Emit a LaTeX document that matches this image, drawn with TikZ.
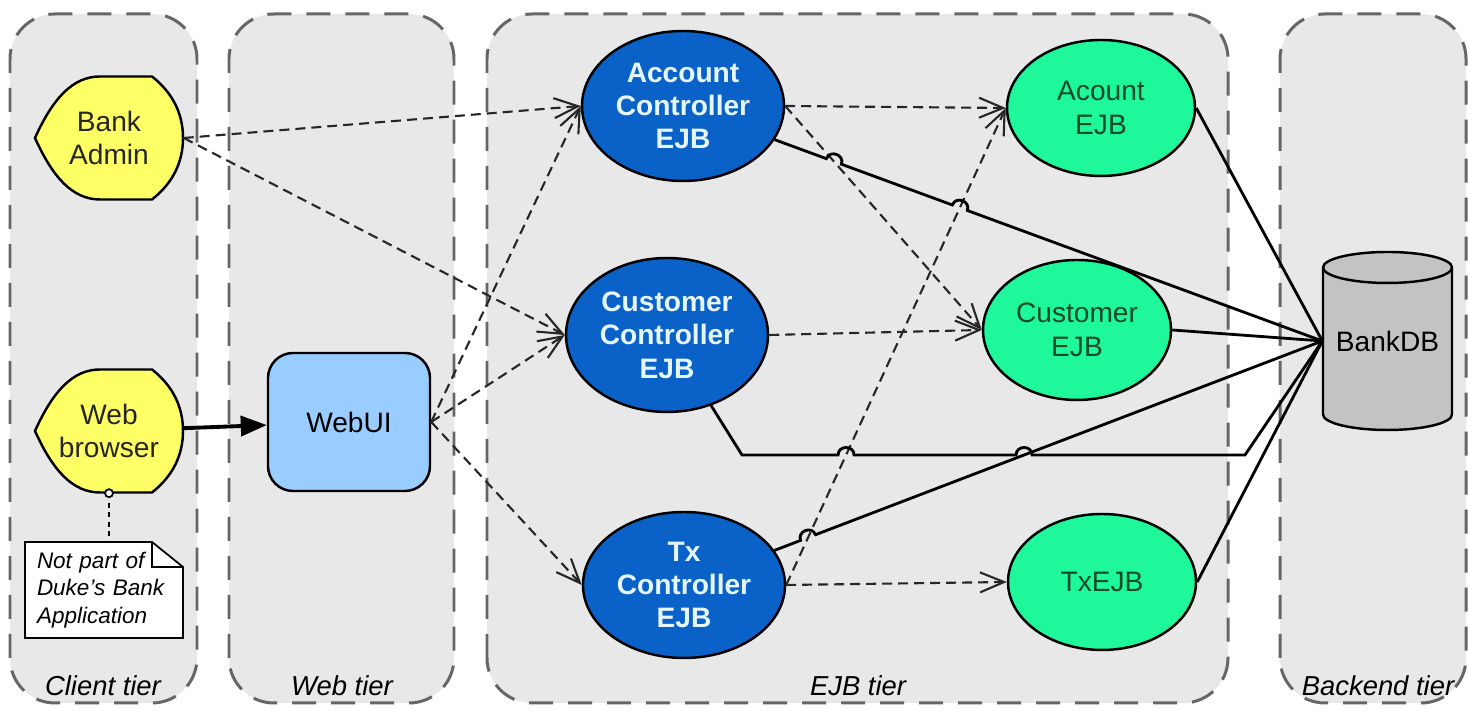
\documentclass[tikz,border=0pt]{standalone}
\usepackage{fontspec}
\setmainfont{Liberation Sans}
\usetikzlibrary{arrows.meta,calc,intersections,shapes.geometric}

\definecolor{tierfill}{HTML}{E8E8E8}
\definecolor{tierline}{HTML}{666666}
\definecolor{actorfill}{HTML}{FFFF66}
\definecolor{ctrlfill}{HTML}{0A62C8}
\definecolor{ctrltext}{HTML}{E6F6FF}
\definecolor{ejbfill}{HTML}{1EF79A}
\definecolor{ejbtext}{HTML}{114A2A}
\definecolor{webfill}{HTML}{99CCFF}
\definecolor{dbfill}{HTML}{C3C3C3}

\begin{document}
\begin{tikzpicture}[font=\fontsize{8}{9.5}\selectfont,
  tier/.style = {draw=tierline, fill=tierfill, line width=0.85pt, dash pattern=on 0.24cm off 0.15cm, rounded corners=0.45cm},
  tierlabel/.style = {font=\fontsize{7.8}{9.5}\selectfont\itshape},
  actor/.style = {draw, fill=actorfill, line width=0.7pt},
  actortext/.style = {align=center, minimum width=1.48cm, minimum height=1.23cm, inner sep=0pt, text=black!85},
  ctrl/.style = {draw, ellipse, fill=ctrlfill, line width=0.7pt, text=ctrltext, font=\fontsize{8}{9.5}\selectfont\bfseries, align=center, inner sep=0pt, minimum width=2.02cm, minimum height=1.5cm},
  ejb/.style = {draw, ellipse, fill=ejbfill, line width=0.7pt, text=ejbtext, align=center, inner sep=0pt, minimum width=1.88cm, minimum height=1.36cm},
  dep/.style = {-{Straight Barb[length=0.24cm,width=0.2cm]}, line width=0.6pt, dash pattern=on 0.1cm off 0.06cm, black!85},
  store/.style = {line width=0.8pt},
  hop/.style = {bend left=90, looseness=1.6}]
\useasboundingbox (0,0) rectangle (14.69,7.11);

\draw[tier] (0.10,0.08) rectangle (1.97,6.97);
\draw[tier] (2.29,0.08) rectangle (4.54,6.97);
\draw[tier] (4.87,0.08) rectangle (12.28,6.97);
\draw[tier] (12.80,0.08) rectangle (14.66,6.97);
\node[tierlabel] (clientlbl) at (1.03,0.25) {Client tier};
\node[tierlabel] (weblbl) at (3.42,0.25) {Web tier};
\node[tierlabel] (ejblbl) at (8.58,0.25) {EJB tier};
\node[tierlabel] (backlbl) at (13.78,0.25) {Backend tier};

\foreach \y in {5.73,2.80}
  \filldraw[actor, shift={(1.09,\y)}] (-0.74,0) .. controls (-0.56,0.40) and (-0.36,0.615) .. (-0.09,0.615) -- (0.43,0.615) .. controls (0.64,0.45) and (0.74,0.24) .. (0.74,0) .. controls (0.74,-0.24) and (0.64,-0.45) .. (0.43,-0.615) -- (-0.09,-0.615) .. controls (-0.36,-0.615) and (-0.56,-0.40) .. cycle;
\node[actortext] (ba) at (1.09,5.73) {Bank\\Admin};
\node[actortext] (wb) at (1.09,2.80) {Web\\browser};

\filldraw[fill=white, line width=0.5pt] (0.25,0.73) -- (0.25,1.69) -- (1.52,1.69) -- (1.83,1.44) -- (1.83,0.73) -- cycle;
\draw[line width=0.5pt] (1.52,1.69) -- (1.52,1.44) -- (1.83,1.44);
\node[font=\fontsize{6.4}{7.9}\selectfont\itshape, align=left, text width=1.40cm, minimum width=1.58cm, minimum height=0.96cm, inner sep=0pt] (note) at (1.07,1.21) {Not part of\\Duke's Bank\\Application};
\draw[dash pattern=on 1.5pt off 1.2pt, line width=0.5pt] (wb.south) -- (wb.south |- note.north);
\draw[fill=white, line width=0.5pt] (wb.south) circle (0.04);

\node[draw, fill=webfill, rounded corners=0.25cm, minimum width=1.62cm, minimum height=1.38cm, line width=0.7pt] (webui) at (3.49,2.89) {WebUI};
\draw[line width=1.1pt, -{Triangle[length=0.26cm,width=0.2cm]}] (wb) -- (webui);

\node[ctrl] (acc) at (6.83,6.05) {Account\\Controller\\EJB};
\node[ctrl, minimum height=1.54cm] (cuc) at (6.67,3.76) {Customer\\Controller\\EJB};
\node[ctrl, minimum height=1.46cm] (txc) at (6.84,1.26) {Tx\\Controller\\EJB};
\node[ejb] (ae) at (11.01,6.03) {Acount\\EJB};
\node[ejb, minimum height=1.40cm] (cue) at (10.77,3.81) {Customer\\EJB};
\node[ejb] (txe) at (11.02,1.29) {TxEJB};

\filldraw[fill=dbfill, line width=0.7pt] (13.23,4.435) -- (13.23,2.965) arc[start angle=180, end angle=360, x radius=0.645cm, y radius=0.155cm] -- (14.52,4.435) arc[start angle=0, end angle=180, x radius=0.645cm, y radius=0.155cm] -- cycle;
\draw[line width=0.7pt] (13.23,4.435) arc[start angle=180, end angle=360, x radius=0.645cm, y radius=0.155cm];
\node[minimum width=1.29cm, minimum height=1.78cm, inner sep=0pt] (db) at (13.875,3.70) {BankDB};

\draw[dep] (ba.east) -- (acc.west);
\draw[dep] (ba.east) -- (cuc.west);
\draw[dep] (webui.east) -- (acc.west);
\draw[dep] (webui.east) -- (cuc.west);
\draw[dep] (webui.east) -- (txc.west);
\draw[dep] (acc.east) -- (ae.west);
\draw[dep, name path=acccue] (acc.east) -- (cue.west);
\draw[dep] (cuc.east) -- (cue.west);
\draw[dep, name path=txcae] (txc.east) -- (ae.west);
\draw[dep] (txc.east) -- (txe.west);

\draw[store] (ae.east) -- (db.west);
\draw[store] (cue.east) -- (db.west);
\draw[store] (txe.east) -- (db.west);

\path[name path=accdb] (acc) -- (db.west);
\path[name path=txcdb] (txc) -- (db.west);
\coordinate (cucbend) at (7.42,2.56);
\coordinate (cucturn) at (12.45,2.56);
\path[name path=cucrun] (cucbend) -- (cucturn);
\path[name intersections={of=accdb and acccue, by=hopa}];
\path[name intersections={of=accdb and txcae, by=hopb}];
\path[name intersections={of=txcdb and txcae, by=hopc}];
\path[name intersections={of=cucrun and txcae, by=hopd}];
\path[name intersections={of=cucrun and txcdb, by=hope}];
\draw[store] (acc) -- ($(hopa)!0.08cm!(acc)$) to[hop] ($(hopa)!0.08cm!(db.west)$) -- ($(hopb)!0.08cm!(acc)$) to[hop] ($(hopb)!0.08cm!(db.west)$) -- (db.west);
\draw[store] (txc) -- ($(hopc)!0.08cm!(txc)$) to[hop] ($(hopc)!0.08cm!(db.west)$) -- (db.west);
\draw[store] (cuc.-58) -- (cucbend) -- ($(hopd)!0.08cm!(cucbend)$) to[hop] ($(hopd)!0.08cm!(cucturn)$) -- ($(hope)!0.08cm!(cucbend)$) to[hop] ($(hope)!0.08cm!(cucturn)$) -- (cucturn) -- (db.west);
\end{tikzpicture}
\end{document}
